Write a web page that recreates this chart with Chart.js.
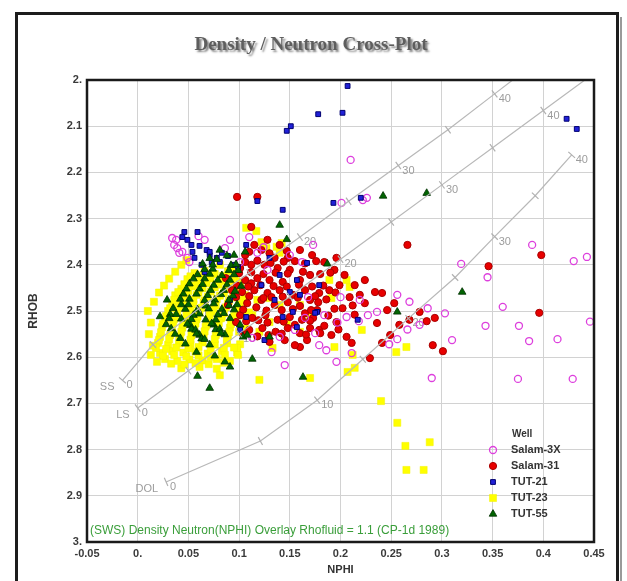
<!DOCTYPE html>
<html>
<head>
<meta charset="utf-8">
<script src="https://cdn.jsdelivr.net/npm/chart.js@4.4.1/dist/chart.umd.min.js"></script>
<style>
  html, body { margin: 0; padding: 0; background: #fff; }
  #wrap { position: relative; width: 627px; height: 581px; }
</style>
</head>
<body>
<div id="wrap"><canvas id="xplot" width="627" height="581"></canvas></div>
<script>
// axis ticks
const X_TICKS = [-0.05, 0, 0.05, 0.1, 0.15, 0.2, 0.25, 0.3, 0.35, 0.4, 0.45];
const Y_TICKS = [2, 2.1, 2.2, 2.3, 2.4, 2.5, 2.6, 2.7, 2.8, 2.9, 3];

const WELLS = ['Salam-3X', 'Salam-31', 'TUT-21', 'TUT-23', 'TUT-55'];
const FOOTNOTE = '(SWS) Density Neutron(NPHI) Overlay Rhofluid = 1.1 (CP-1d 1989)';

// CP-1d overlay lines (porosity units, nphi, rhob)
const SS_PU = [0, 5, 10, 15, 20, 25, 30, 35, 40, 45];
const SS_NPHI = [-0.015, 0.015, 0.060, 0.110, 0.160, 0.208, 0.257, 0.306, 0.352, 0.398];
const SS_RHOB = [2.65, 2.5725, 2.495, 2.4175, 2.34, 2.2625, 2.185, 2.1075, 2.03, 1.9525];

const LS_PU = [0, 5, 10, 15, 20, 25, 30, 35, 40, 45];
const LS_NPHI = [0, 0.05, 0.1, 0.15, 0.2, 0.25, 0.3, 0.35, 0.4, 0.45];
const LS_RHOB = [2.71, 2.6295, 2.549, 2.4685, 2.388, 2.3075, 2.227, 2.1465, 2.066, 1.9855];

const DOL_PU = [0, 5, 10, 15, 20, 25, 30, 35, 40];
const DOL_NPHI = [0.028, 0.121, 0.177, 0.222, 0.267, 0.313, 0.352, 0.392, 0.428];
const DOL_RHOB = [2.87, 2.7815, 2.693, 2.6045, 2.516, 2.4275, 2.339, 2.2505, 2.162];

// Salam-3X
const SALAM3X_NPHI = [
  0.038, 0.039, 0.044, 0.049, 0.036, 0.066, 0.034, 0.041, 0.051, 0.091,
  0.060, 0.118, 0.124, 0.110, 0.150, 0.162, 0.173, 0.201, 0.222, 0.210,
  0.256, 0.268, 0.286, 0.278, 0.266, 0.219, 0.236, 0.227, 0.218, 0.206,
  0.197, 0.184, 0.175, 0.179, 0.256, 0.310, 0.196, 0.145, 0.211, 0.132,
  0.113, 0.140, 0.248, 0.290, 0.389, 0.319, 0.345, 0.360, 0.343, 0.376,
  0.386, 0.414, 0.446, 0.430, 0.443, 0.375, 0.429, 0.226, 0.186, 0.086,
  0.101, 0.128, 0.155, 0.165, 0.303, 0.200, 0.168
];
const SALAM3X_RHOB = [
  2.346, 2.364, 2.372, 2.385, 2.357, 2.346, 2.342, 2.374, 2.394, 2.346,
  2.338, 2.374, 2.362, 2.340, 2.379, 2.394, 2.357, 2.266, 2.260, 2.173,
  2.465, 2.480, 2.494, 2.530, 2.540, 2.476, 2.502, 2.509, 2.522, 2.513,
  2.525, 2.509, 2.548, 2.574, 2.561, 2.563, 2.610, 2.617, 2.591, 2.589,
  2.558, 2.556, 2.572, 2.645, 2.357, 2.398, 2.427, 2.491, 2.532, 2.532,
  2.565, 2.561, 2.523, 2.392, 2.383, 2.647, 2.647, 2.255, 2.585, 2.364,
  2.394, 2.411, 2.541, 2.515, 2.505, 2.470, 2.470
];

// Salam-31
const SALAM31_NPHI = [
  0.098, 0.118, 0.112, 0.148, 0.266, 0.346, 0.398, 0.396, 0.301, 0.241,
  0.246, 0.236, 0.291, 0.293, 0.285, 0.268, 0.241, 0.229, 0.224, 0.199,
  0.189, 0.179, 0.178, 0.177, 0.173, 0.179, 0.191, 0.202, 0.212, 0.214,
  0.206, 0.211, 0.160, 0.167, 0.198, 0.184, 0.106, 0.122, 0.135, 0.101,
  0.112, 0.125, 0.138, 0.150, 0.106, 0.118, 0.130, 0.143, 0.160, 0.170,
  0.103, 0.115, 0.128, 0.140, 0.153, 0.165, 0.108, 0.122, 0.135, 0.148,
  0.160, 0.170, 0.101, 0.113, 0.126, 0.138, 0.150, 0.162, 0.110, 0.123,
  0.136, 0.148, 0.160, 0.170, 0.130, 0.145, 0.155, 0.115, 0.128, 0.140,
  0.155, 0.160, 0.172, 0.184, 0.194, 0.204, 0.214, 0.224, 0.234, 0.219,
  0.253, 0.258, 0.278, 0.249, 0.093, 0.089, 0.097, 0.087, 0.196, 0.209,
  0.117, 0.142, 0.128, 0.155, 0.112, 0.132, 0.147, 0.118, 0.165, 0.186,
  0.195, 0.188,
  0.110, 0.130, 0.147,
  0.106, 0.118, 0.131, 0.144, 0.165, 0.176,
  0.100, 0.112, 0.124, 0.136, 0.148, 0.163, 0.180, 0.190,
  0.098, 0.109, 0.121, 0.134, 0.159, 0.172, 0.183,
  0.097, 0.110, 0.124, 0.143, 0.158, 0.175,
  0.104, 0.127, 0.153, 0.171, 0.194,
  0.107, 0.119, 0.144, 0.170, 0.196,
  0.104, 0.129, 0.142, 0.166, 0.180
];
const SALAM31_RHOB = [
  2.253, 2.253, 2.318, 2.385, 2.357, 2.403, 2.379, 2.504, 2.587, 2.461,
  2.498, 2.526, 2.574, 2.515, 2.522, 2.519, 2.569, 2.602, 2.483, 2.444,
  2.455, 2.461, 2.481, 2.498, 2.515, 2.541, 2.552, 2.494, 2.488, 2.508,
  2.556, 2.569, 2.578, 2.563, 2.540, 2.532, 2.379, 2.368, 2.385, 2.407,
  2.400, 2.400, 2.407, 2.411, 2.433, 2.429, 2.433, 2.437, 2.433, 2.422,
  2.459, 2.455, 2.461, 2.455, 2.465, 2.455, 2.483, 2.476, 2.487, 2.481,
  2.489, 2.476, 2.509, 2.515, 2.509, 2.519, 2.513, 2.519, 2.541, 2.537,
  2.545, 2.537, 2.548, 2.537, 2.567, 2.563, 2.574, 2.357, 2.346, 2.357,
  2.392, 2.368, 2.379, 2.394, 2.411, 2.422, 2.444, 2.433, 2.459, 2.465,
  2.483, 2.530, 2.502, 2.552, 2.455, 2.487, 2.524, 2.429, 2.385, 2.470,
  2.492, 2.498, 2.525, 2.530, 2.440, 2.470, 2.447, 2.555, 2.505, 2.475,
  2.460, 2.510,
  2.372, 2.375, 2.370,
  2.394, 2.391, 2.396, 2.393, 2.397, 2.392,
  2.418, 2.416, 2.420, 2.417, 2.419, 2.415, 2.420, 2.417,
  2.445, 2.447, 2.444, 2.446, 2.443, 2.447, 2.445,
  2.470, 2.468, 2.472, 2.469, 2.471, 2.468,
  2.497, 2.499, 2.496, 2.498, 2.495,
  2.522, 2.520, 2.523, 2.521, 2.524,
  2.550, 2.552, 2.549, 2.551, 2.548
];

// TUT-21
const TUT21_NPHI = [
  0.147, 0.151, 0.178, 0.202, 0.207, 0.423, 0.433, 0.118, 0.143, 0.193,
  0.220, 0.059, 0.044, 0.053, 0.054, 0.056, 0.063, 0.066, 0.071, 0.073,
  0.049, 0.061, 0.068, 0.078, 0.071, 0.083, 0.089, 0.094, 0.099, 0.107,
  0.081, 0.130, 0.140, 0.150, 0.157, 0.160, 0.153, 0.167, 0.177, 0.217,
  0.175, 0.157, 0.143, 0.107, 0.046, 0.122, 0.135, 0.101, 0.125, 0.179,
  0.091
];
const TUT21_RHOB = [
  2.110, 2.100, 2.074, 2.071, 2.013, 2.084, 2.106, 2.262, 2.281, 2.266,
  2.255, 2.329, 2.340, 2.357, 2.372, 2.385, 2.400, 2.416, 2.379, 2.394,
  2.346, 2.359, 2.368, 2.385, 2.372, 2.374, 2.381, 2.400, 2.405, 2.357,
  2.394, 2.385, 2.422, 2.459, 2.433, 2.465, 2.502, 2.396, 2.502, 2.519,
  2.504, 2.535, 2.513, 2.513, 2.329, 2.444, 2.476, 2.541, 2.563, 2.444,
  2.476
];

// TUT-23
const TUT23_NPHI = [
  0.056, 0.066, 0.076, 0.089,
  0.049, 0.059, 0.071, 0.083, 0.096,
  0.043, 0.053, 0.064, 0.076, 0.089, 0.101,
  0.037, 0.047, 0.058, 0.069, 0.081, 0.094, 0.106,
  0.034, 0.043, 0.055, 0.065, 0.077, 0.089, 0.101,
  0.030, 0.039, 0.050, 0.061, 0.073, 0.085, 0.097, 0.110,
  0.027, 0.036, 0.047, 0.058, 0.070, 0.082, 0.094,
  0.024, 0.034, 0.044, 0.056, 0.067, 0.079, 0.091, 0.106,
  0.022, 0.032, 0.042, 0.053, 0.065, 0.077, 0.089,
  0.020, 0.030, 0.041, 0.052, 0.064, 0.076, 0.088, 0.101,
  0.022, 0.034, 0.045, 0.057, 0.069, 0.083, 0.098,
  0.027, 0.039, 0.051, 0.064, 0.078, 0.091,
  0.043, 0.061, 0.078,
  0.081, 0.093, 0.107, 0.117, 0.122, 0.127, 0.137, 0.142, 0.140, 0.104,
  0.118, 0.130, 0.140, 0.101, 0.113, 0.130, 0.147, 0.120, 0.160, 0.170,
  0.160, 0.189, 0.209, 0.191, 0.206, 0.194, 0.212, 0.255, 0.221, 0.265,
  0.214, 0.207, 0.170, 0.120, 0.081, 0.099, 0.098, 0.133, 0.240, 0.256,
  0.264, 0.265, 0.282, 0.288,
  0.052, 0.062, 0.072, 0.084,
  0.046, 0.056, 0.068, 0.080, 0.092,
  0.040, 0.050, 0.060, 0.072, 0.085, 0.097,
  0.036, 0.045, 0.055, 0.066, 0.078, 0.090,
  0.032, 0.041, 0.052, 0.063, 0.075, 0.087, 0.099,
  0.028, 0.037, 0.048, 0.059, 0.071, 0.083, 0.095, 0.104,
  0.025, 0.035, 0.045, 0.057, 0.068, 0.080, 0.092,
  0.023, 0.033, 0.043, 0.054, 0.066, 0.078, 0.090, 0.100,
  0.021, 0.031, 0.041, 0.052, 0.064, 0.076, 0.088,
  0.018, 0.028, 0.038, 0.050, 0.060, 0.072, 0.085, 0.095,
  0.025, 0.036, 0.048, 0.060, 0.072, 0.086,
  0.033, 0.046, 0.057, 0.070, 0.085,
  0.010, 0.013, 0.011, 0.015, 0.013, 0.019, 0.016, 0.021, 0.026, 0.031,
  0.037, 0.043, 0.048
];
const TUT23_RHOB = [
  2.418, 2.413, 2.420, 2.414,
  2.431, 2.436, 2.430, 2.435, 2.432,
  2.452, 2.447, 2.451, 2.449, 2.453, 2.448,
  2.466, 2.470, 2.465, 2.469, 2.467, 2.471, 2.466,
  2.487, 2.483, 2.486, 2.482, 2.488, 2.484, 2.486,
  2.500, 2.504, 2.499, 2.503, 2.501, 2.505, 2.500, 2.503,
  2.521, 2.517, 2.520, 2.518, 2.522, 2.516, 2.520,
  2.535, 2.539, 2.536, 2.538, 2.534, 2.539, 2.536, 2.538,
  2.556, 2.552, 2.555, 2.553, 2.557, 2.552, 2.555,
  2.569, 2.573, 2.570, 2.572, 2.568, 2.573, 2.570, 2.572,
  2.591, 2.587, 2.590, 2.588, 2.592, 2.587, 2.590,
  2.604, 2.608, 2.605, 2.607, 2.604, 2.608,
  2.624, 2.621, 2.625,
  2.400, 2.411, 2.320, 2.327, 2.351, 2.364, 2.361, 2.353, 2.374, 2.476,
  2.476, 2.472, 2.487, 2.437, 2.509, 2.524, 2.524, 2.545, 2.545, 2.509,
  2.487, 2.433, 2.448, 2.472, 2.433, 2.578, 2.595, 2.589, 2.541, 2.578,
  2.623, 2.632, 2.645, 2.649, 2.639, 2.595, 2.580, 2.580, 2.695, 2.742,
  2.792, 2.844, 2.844, 2.784,
  2.425, 2.423, 2.427, 2.424,
  2.442, 2.444, 2.440, 2.443, 2.441,
  2.459, 2.457, 2.460, 2.458, 2.461, 2.457,
  2.476, 2.478, 2.475, 2.477, 2.474, 2.478,
  2.494, 2.492, 2.495, 2.493, 2.496, 2.492, 2.494,
  2.511, 2.513, 2.510, 2.512, 2.509, 2.513, 2.511, 2.510,
  2.528, 2.526, 2.529, 2.527, 2.530, 2.526, 2.528,
  2.546, 2.548, 2.545, 2.547, 2.544, 2.548, 2.546, 2.545,
  2.563, 2.561, 2.564, 2.562, 2.565, 2.561, 2.563,
  2.580, 2.582, 2.579, 2.581, 2.578, 2.582, 2.580, 2.579,
  2.597, 2.595, 2.598, 2.596, 2.599, 2.595,
  2.614, 2.616, 2.613, 2.615, 2.612,
  2.500, 2.525, 2.550, 2.575, 2.595, 2.610, 2.480, 2.460, 2.445, 2.430,
  2.415, 2.400, 2.390
];

// TUT-55
const TUT55_NPHI = [
  0.081, 0.095,
  0.064, 0.078, 0.092,
  0.059, 0.074, 0.083, 0.099,
  0.051, 0.066, 0.075, 0.091, 0.102,
  0.045, 0.061, 0.069, 0.085, 0.094,
  0.043, 0.051, 0.067, 0.076, 0.090,
  0.032, 0.047, 0.055, 0.070, 0.079, 0.095,
  0.028, 0.043, 0.052, 0.067, 0.075, 0.091,
  0.037, 0.053, 0.061, 0.077, 0.086,
  0.047, 0.063, 0.071,
  0.022, 0.029, 0.140, 0.147, 0.187, 0.242, 0.285, 0.320, 0.256, 0.058,
  0.076, 0.086, 0.091, 0.113, 0.059, 0.071, 0.163, 0.104, 0.106, 0.101,
  0.108, 0.130,
  0.071, 0.088,
  0.066, 0.074, 0.090, 0.097,
  0.055, 0.071, 0.079, 0.095,
  0.048, 0.064, 0.072, 0.088, 0.096,
  0.042, 0.058, 0.066, 0.082, 0.090,
  0.035, 0.050, 0.059, 0.075, 0.083, 0.098,
  0.031, 0.038, 0.053, 0.061, 0.077, 0.085,
  0.033, 0.049, 0.057, 0.073, 0.081,
  0.042, 0.058, 0.066, 0.082
];
const TUT55_RHOB = [
  2.368, 2.379,
  2.398, 2.388, 2.401,
  2.421, 2.409, 2.423, 2.412,
  2.441, 2.430, 2.444, 2.433, 2.446,
  2.463, 2.452, 2.466, 2.455, 2.467,
  2.486, 2.474, 2.489, 2.476, 2.488,
  2.507, 2.496, 2.509, 2.495, 2.508, 2.497,
  2.529, 2.517, 2.531, 2.519, 2.530, 2.516,
  2.550, 2.539, 2.552, 2.540, 2.551,
  2.571, 2.560, 2.573,
  2.512, 2.476, 2.314, 2.345, 2.398, 2.251, 2.245, 2.459, 2.502, 2.589,
  2.597, 2.610, 2.621, 2.604, 2.641, 2.667, 2.643, 2.556, 2.372, 2.530,
  2.552, 2.556,
  2.386, 2.380,
  2.410, 2.400, 2.412, 2.399,
  2.430, 2.420, 2.433, 2.421,
  2.452, 2.442, 2.455, 2.443, 2.457,
  2.474, 2.463, 2.477, 2.464, 2.476,
  2.494, 2.486, 2.497, 2.484, 2.496, 2.486,
  2.516, 2.507, 2.518, 2.506, 2.519, 2.505,
  2.538, 2.528, 2.541, 2.527, 2.539,
  2.559, 2.549, 2.561, 2.548
];

const pts = (xs, ys) => xs.map((x, i) => ({ x: x, y: ys[i] }));

function fmt(v) {
  const r = Math.round(v * 100) / 100;
  return Number.isInteger(r) ? r + '.' : String(r);
}

// perpendicular tick on the overlay lines
function tickAngle(c) {
  if (c.type !== 'data') return 0;
  const d = c.dataset.data;
  const i = c.dataIndex;
  const a = d[Math.max(i - 1, 0)], b = d[Math.min(i + 1, d.length - 1)];
  const sx = c.chart.scales.x, sy = c.chart.scales.y;
  const ang = Math.atan2(sy.getPixelForValue(b.y) - sy.getPixelForValue(a.y),
                         sx.getPixelForValue(b.x) - sx.getPixelForValue(a.x));
  return ang * 180 / Math.PI + 90;
}

function overlay(label, pu, xs, ys) {
  return {
    label: label,
    pu: pu,
    data: pts(xs, ys),
    showLine: true,
    order: 0,
    borderColor: '#b8b8b8',
    borderWidth: 1.2,
    pointStyle: 'line',
    pointRotation: tickAngle,
    pointRadius: c => (c.type === 'data' && c.dataset.pu[c.dataIndex] > 40) ? 0 : 4.5,
    pointBorderColor: '#b0b0b0',
    pointBorderWidth: 1.2
  };
}

const wellStyles = {
  'Salam-3X': { pointStyle: 'circle', radius: 3.5, bg: 'rgba(255,255,255,0)', border: '#dd3fdd', bw: 1.3, order: 3 },
  'Salam-31': { pointStyle: 'circle', radius: 3.6, bg: '#e80000', border: '#a80000', bw: 1, order: 4 },
  'TUT-21':   { pointStyle: 'rect', radius: 3.4, bg: '#2020d8', border: '#000070', bw: 1, order: 2 },
  'TUT-23':   { pointStyle: 'rect', radius: 5, bg: '#ffff00', border: '#f2f200', bw: 0.5, order: 5 },
  'TUT-55':   { pointStyle: 'triangle', radius: 4.4, bg: '#026402', border: '#003000', bw: 0.8, order: 1 }
};

const wellData = {
  'Salam-3X': pts(SALAM3X_NPHI, SALAM3X_RHOB),
  'Salam-31': pts(SALAM31_NPHI, SALAM31_RHOB),
  'TUT-21': pts(TUT21_NPHI, TUT21_RHOB),
  'TUT-23': pts(TUT23_NPHI, TUT23_RHOB),
  'TUT-55': pts(TUT55_NPHI, TUT55_RHOB)
};

const wellSets = WELLS.map(w => {
  const s = wellStyles[w];
  return {
    label: w,
    data: wellData[w],
    order: s.order,
    pointStyle: s.pointStyle,
    pointRadius: s.radius,
    backgroundColor: s.bg,
    borderColor: s.border,
    borderWidth: s.bw
  };
});

const decorations = {
  id: 'decorations',
  beforeDraw(chart) {
    const ctx = chart.ctx;
    ctx.save();
    ctx.fillStyle = '#fff';
    ctx.fillRect(0, 0, chart.width, chart.height);
    // outer frame
    ctx.strokeStyle = '#9a9a9a';
    ctx.lineWidth = 2;
    ctx.beginPath();
    ctx.moveTo(621, 17); ctx.lineTo(621, 600);
    ctx.stroke();
    ctx.strokeStyle = '#1c1c1c';
    ctx.lineWidth = 3;
    ctx.beginPath();
    ctx.moveTo(16.5, 600); ctx.lineTo(16.5, 13.5); ctx.lineTo(617.5, 13.5); ctx.lineTo(617.5, 600);
    ctx.stroke();
    // title
    ctx.font = 'bold 19px "Liberation Serif", "Times New Roman", serif';
    ctx.textAlign = 'center';
    ctx.textBaseline = 'middle';
    ctx.shadowColor = 'rgba(0,0,0,0.5)';
    ctx.shadowOffsetX = 2;
    ctx.shadowOffsetY = 2;
    ctx.shadowBlur = 2;
    ctx.fillStyle = '#5e5e5e';
    ctx.fillText('Density / Neutron Cross-Plot', 311, 45);
    ctx.restore();
  },
  beforeDatasetsDraw(chart) {
    const ctx = chart.ctx;
    ctx.save();
    ctx.font = '11px "Liberation Sans", Arial, sans-serif';
    ctx.fillStyle = '#9c9c9c';
    chart.data.datasets.forEach((ds, di) => {
      if (!ds.pu) return;
      const meta = chart.getDatasetMeta(di);
      ctx.textAlign = 'left';
      ctx.textBaseline = 'middle';
      meta.data.forEach((p, i) => {
        const pu = ds.pu[i];
        if (pu % 10 === 0 && pu <= 40) ctx.fillText(String(pu), p.x + 4, p.y + 5);
      });
      const p0 = meta.data[0];
      ctx.textAlign = 'right';
      ctx.fillText(ds.label, p0.x - 8, p0.y + 7);
    });
    ctx.restore();
  },
  afterDraw(chart) {
    const ctx = chart.ctx;
    const a = chart.chartArea;
    ctx.save();
    // plot frame
    ctx.strokeStyle = '#1a1a1a';
    ctx.lineWidth = 2.5;
    ctx.strokeRect(a.left, a.top, a.right - a.left, a.bottom - a.top);
    // footnote
    ctx.font = '12px "Liberation Sans", Arial, sans-serif';
    ctx.fillStyle = '#3a9e3a';
    ctx.textAlign = 'left';
    ctx.textBaseline = 'middle';
    ctx.fillText(FOOTNOTE, a.left + 3, a.bottom - 11);
    // legend
    const lx = a.right - 101, ty = a.bottom - 108;
    ctx.fillStyle = '#333';
    ctx.font = 'bold 10px "Liberation Sans", Arial, sans-serif';
    ctx.fillText('Well', lx + 19, ty);
    ctx.font = 'bold 11px "Liberation Sans", Arial, sans-serif';
    WELLS.forEach((w, i) => {
      const s = wellStyles[w];
      const y = ty + 16 * (i + 1);
      ctx.fillStyle = s.bg;
      ctx.strokeStyle = s.border;
      ctx.lineWidth = s.bw;
      Chart.helpers.drawPoint(ctx, { pointStyle: s.pointStyle, radius: s.radius, rotation: 0, borderWidth: s.bw }, lx, y);
      ctx.fillStyle = '#333';
      ctx.fillText(w, lx + 18, y);
    });
    ctx.restore();
  }
};

new Chart(document.getElementById('xplot'), {
  type: 'scatter',
  data: {
    datasets: [
      overlay('SS', SS_PU, SS_NPHI, SS_RHOB),
      overlay('LS', LS_PU, LS_NPHI, LS_RHOB),
      overlay('DOL', DOL_PU, DOL_NPHI, DOL_RHOB)
    ].concat(wellSets)
  },
  options: {
    responsive: false,
    animation: false,
    devicePixelRatio: 1,
    events: [],
    layout: { padding: { left: 22, top: 80, right: 33, bottom: 2 } },
    plugins: { legend: { display: false }, tooltip: { enabled: false } },
    scales: {
      x: {
        type: 'linear',
        min: -0.05,
        max: 0.45,
        afterBuildTicks: s => { s.ticks = X_TICKS.map(v => ({ value: v })); },
        afterFit: s => { s.height = 37; },
        grid: { color: '#d2d2d2', lineWidth: 1, drawTicks: false },
        border: { display: false },
        ticks: {
          padding: 5,
          maxRotation: 0,
          autoSkip: false,
          color: '#3a3a3a',
          font: { family: '"Liberation Sans", Arial, sans-serif', size: 11, weight: 'bold' },
          callback: v => fmt(v)
        },
        title: {
          display: true,
          text: 'NPHI',
          color: '#333',
          padding: { top: 0, bottom: 2 },
          font: { family: '"Liberation Sans", Arial, sans-serif', size: 11, weight: 'bold' }
        }
      },
      y: {
        type: 'linear',
        reverse: true,
        min: 2,
        max: 3,
        afterBuildTicks: s => { s.ticks = Y_TICKS.map(v => ({ value: v })); },
        afterFit: s => { s.width = 65; },
        grid: { color: '#d2d2d2', lineWidth: 1, drawTicks: false },
        border: { display: false },
        ticks: {
          padding: 5,
          autoSkip: false,
          color: '#3a3a3a',
          font: { family: '"Liberation Sans", Arial, sans-serif', size: 11, weight: 'bold' },
          callback: v => fmt(v)
        },
        title: {
          display: true,
          text: 'RHOB',
          color: '#333',
          padding: { top: 4, bottom: 0 },
          font: { family: '"Liberation Sans", Arial, sans-serif', size: 12, weight: 'bold' }
        }
      }
    }
  },
  plugins: [decorations]
});
</script>
</body>
</html>
